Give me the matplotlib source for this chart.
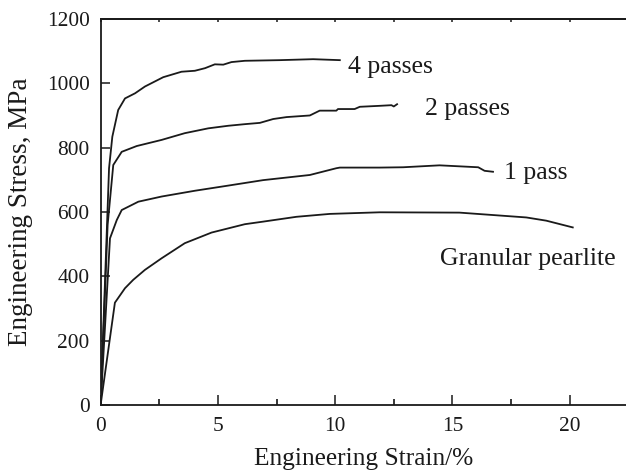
import matplotlib
matplotlib.use("Agg")
import matplotlib.pyplot as plt
from matplotlib.ticker import MultipleLocator

plt.rcParams['font.family'] = ['Liberation Serif', 'DejaVu Serif']

strain_4 = [0, 0.36, 0.50, 0.75, 1.04, 1.47, 1.89, 2.67, 3.45, 4.02, 4.45, 4.87, 5.23, 5.58, 6.15, 7.64, 9.06, 10.2]
stress_4 = [0, 736, 834, 917, 953, 969, 990, 1019, 1036, 1039, 1047, 1059, 1058, 1066, 1070, 1072, 1075, 1072]

strain_2 = [0, 0.30, 0.54, 0.90, 1.54, 2.60, 3.59, 4.59, 5.44, 6.15, 6.79, 7.36, 7.93, 8.92, 9.34, 10.05, 10.12, 10.83, 11.05, 11.90, 12.40, 12.5, 12.64]
stress_2 = [0, 560, 746, 787, 805, 824, 845, 860, 868, 873, 877, 889, 895, 900, 915, 915, 920, 920, 927, 930, 932, 928, 935]

strain_1 = [0, 0.40, 0.69, 0.90, 1.61, 2.60, 4.02, 5.44, 6.93, 8.92, 10.05, 10.2, 11.9, 12.9, 14.45, 16.1, 16.37, 16.73]
stress_1 = [0, 518, 575, 606, 632, 648, 666, 682, 699, 715, 736, 738, 738, 739, 745, 739, 728, 725]

strain_g = [0, 0.61, 1.04, 1.39, 1.89, 2.60, 3.59, 4.73, 6.15, 6.93, 8.35, 9.77, 11.9, 15.3, 18.15, 19.0, 20.13]
stress_g = [0, 318, 363, 389, 420, 456, 503, 536, 562, 570, 585, 594, 599, 598, 583, 573, 552]

labels = ["4 passes", "2 passes", "1 pass", "Granular pearlite"]
label_x = [10.55, 13.85, 17.2, 14.45]
label_y = [1050, 920, 720, 455]

fig = plt.figure(figsize=(6.26, 4.72), dpi=100)
ax = fig.add_axes([0.1607, 0.142, 0.8393, 0.8178])
col = '#1a1a1a'
for xs, ys in [(strain_4, stress_4), (strain_2, stress_2), (strain_1, stress_1), (strain_g, stress_g)]:
    ax.plot(xs, ys, color=col, lw=1.3)

for t, x, y in zip(labels, label_x, label_y):
    ax.text(x, y, t, fontsize=18.5, color=col, va='center', ha='left')

ax.set_xlim(0, 22.4)
ax.set_ylim(0, 1200)
ax.xaxis.set_major_locator(MultipleLocator(5))
ax.xaxis.set_minor_locator(MultipleLocator(2.5))
ax.yaxis.set_major_locator(MultipleLocator(200))
ax.tick_params(axis='x', which='major', direction='in', length=7.3, width=1.1, labelsize=15.4, colors=col, top=False, pad=9)
ax.tick_params(axis='x', which='minor', direction='in', length=4, width=1.1, top=False)
ax.tick_params(axis='y', which='major', direction='in', length=6.8, width=1.1, labelsize=15.4, colors=col, pad=8)
ax.spines['right'].set_visible(False)
for s in ['left', 'bottom', 'top']:
    ax.spines[s].set_linewidth(1.3)
    ax.spines[s].set_color(col)

sec = ax.secondary_xaxis('top')
sec.xaxis.set_major_locator(MultipleLocator(2.5))
sec.tick_params(direction='in', length=2.5, width=1.1, labeltop=False, colors=col)
sec.spines['top'].set_linewidth(1.3)
sec.spines['top'].set_color(col)

ax.set_xlabel("Engineering Strain/%", fontsize=18.3, color=col)
ax.set_ylabel("Engineering Stress, MPa", fontsize=19.5, color=col)
ax.xaxis.set_label_coords(0.5, -0.112)
ax.yaxis.set_label_coords(-0.128, 0.5)
fig.savefig("out.png", dpi=100)
